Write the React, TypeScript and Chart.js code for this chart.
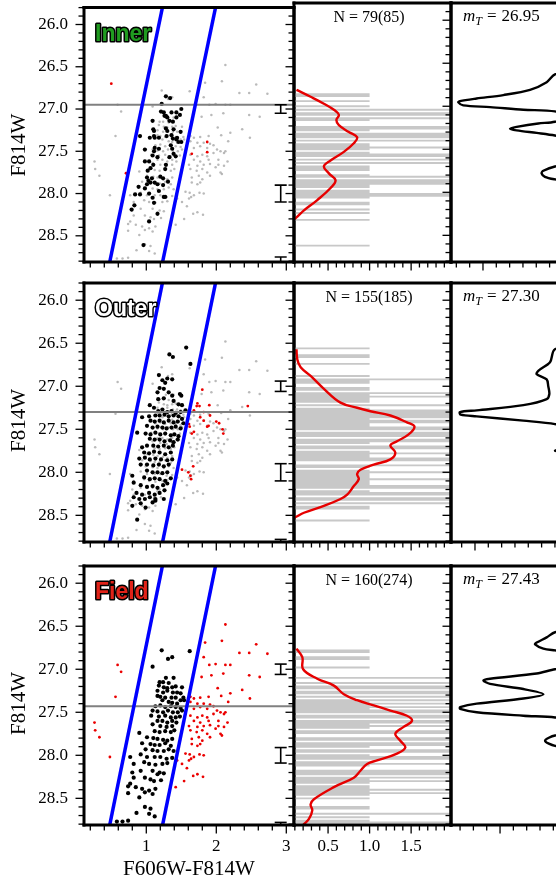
import React, { useEffect, useRef } from "react";
import { Chart, registerables } from "chart.js";
Chart.register(...registerables);

// ---------------- data ----------------
const magTicks = [26.0, 26.5, 27.0, 27.5, 28.0, 28.5];
const magTickLabels = ["26.0", "26.5", "27.0", "27.5", "28.0", "28.5"];
const colorTicks = [1, 2, 3];
const colorTickLabels = ["1", "2", "3"];
const histTicks = [0.5, 1.0, 1.5];
const histTickLabels = ["0.5", "1.0", "1.5"];
const edgeTicks = [0];

const regionNames = ["Inner", "Outer", "Field"];
const nLabels = ["N = 79(85)", "N = 155(185)", "N = 160(274)"];
const trgbMags = [26.95, 27.3, 27.43];
const trgbLabels = ["26.95", "27.30", "27.43"];

const boxLeftEdge = [[1.255, 25.7], [0.455, 28.9]];
const boxRightEdge = [[2.014, 25.7], [1.21, 28.9]];

const errColor = 2.92;
const errMags = [27.0, 28.0, 29.0];
const errSizesInner = [0.05, 0.1, 0.25];
const errSizesOuter = [0.06, 0.1, 0.22];
const errSizesField = [0.06, 0.09, 0.22];

const innerBlack = [
  [1.28, 26.85], [1.34, 26.87], [1.22, 26.94], [1.21, 27.03], [1.25, 27.04], [1.28, 27.08], [1.36, 27.04], [1.43, 27.04],
  [1.5, 27.0], [1.48, 27.07], [1.43, 27.1], [1.3, 27.1], [1.26, 27.08], [1.09, 27.14], [1.33, 27.14], [1.38, 27.15],
  [1.1, 27.24], [1.28, 27.23], [1.11, 27.26], [0.91, 27.32], [1.11, 27.32], [1.3, 27.26], [1.39, 27.24], [1.49, 27.27],
  [1.05, 27.34], [1.12, 27.34], [1.18, 27.34], [1.29, 27.32], [1.36, 27.31], [1.38, 27.35], [1.43, 27.36], [1.46, 27.39],
  [1.5, 27.39], [1.44, 27.34], [0.98, 27.48], [1.12, 27.46], [1.18, 27.47], [1.35, 27.43], [1.37, 27.47], [1.11, 27.5],
  [1.09, 27.55], [0.98, 27.62], [1.04, 27.62], [1.16, 27.57], [1.33, 27.57], [1.39, 27.53], [1.42, 27.56], [1.1, 27.66],
  [1.06, 27.7], [1.02, 27.73], [1.28, 27.66], [1.27, 27.71], [1.08, 27.82], [1.01, 27.81], [1.2, 27.8], [1.24, 27.82],
  [1.03, 27.85], [1.06, 27.87], [1.12, 27.87], [1.16, 27.89], [1.01, 27.89], [1.31, 27.86], [1.24, 27.9], [0.89, 27.92],
  [0.98, 27.94], [1.18, 27.97], [1.04, 28.0], [0.84, 28.01], [0.91, 28.01], [1.27, 28.04], [1.25, 28.04], [1.09, 28.05],
  [1.11, 28.11], [0.83, 28.14], [0.79, 28.19], [1.16, 28.24], [1.04, 28.33], [0.96, 28.61],
];
const innerRed = [[0.5, 26.7], [0.71, 27.76], [1.65, 27.53], [1.87, 27.39], [1.87, 27.51]];

const outerBlack = [
  [1.57, 26.55], [1.33, 26.63], [1.38, 26.66], [1.63, 26.74], [1.18, 26.87], [1.3, 26.91], [1.23, 26.93], [1.27, 26.96],
  [1.37, 26.92], [1.19, 27.02], [1.25, 27.03], [1.16, 27.07], [1.32, 27.07], [1.37, 27.11], [1.48, 27.09], [1.5, 27.11],
  [1.17, 27.15], [1.25, 27.14], [1.39, 27.17], [1.46, 27.21], [1.51, 27.22], [1.05, 27.22], [1.11, 27.25], [1.17, 27.29],
  [1.23, 27.27], [1.3, 27.3], [1.36, 27.29], [1.42, 27.31], [1.49, 27.3], [1.56, 27.28], [0.94, 27.36], [1.04, 27.35],
  [1.13, 27.34], [1.19, 27.34], [1.26, 27.33], [1.32, 27.35], [1.39, 27.34], [1.46, 27.35], [1.51, 27.38], [1.06, 27.4],
  [1.12, 27.41], [1.19, 27.4], [1.25, 27.42], [1.32, 27.4], [1.39, 27.42], [1.45, 27.41], [1.53, 27.43], [0.87, 27.54],
  [1.01, 27.46], [1.09, 27.48], [1.16, 27.47], [1.23, 27.48], [1.29, 27.49], [1.36, 27.48], [1.42, 27.47], [1.49, 27.49],
  [0.99, 27.55], [1.06, 27.56], [1.13, 27.54], [1.2, 27.56], [1.27, 27.55], [1.35, 27.57], [1.4, 27.56], [1.46, 27.58],
  [1.05, 27.61], [1.12, 27.62], [1.19, 27.62], [1.26, 27.64], [1.34, 27.63], [1.39, 27.65], [1.45, 27.62], [0.94, 27.71],
  [1.01, 27.69], [1.1, 27.69], [1.17, 27.7], [1.25, 27.69], [1.32, 27.71], [1.38, 27.69], [0.97, 27.77], [1.04, 27.78],
  [1.11, 27.76], [1.19, 27.77], [1.27, 27.79], [1.35, 27.77], [0.9, 27.84], [0.98, 27.83], [1.05, 27.85], [1.13, 27.84],
  [1.21, 27.85], [1.3, 27.86], [1.37, 27.85], [0.92, 27.91], [1.01, 27.91], [1.1, 27.92], [1.18, 27.91], [1.25, 27.93],
  [1.32, 27.91], [0.8, 28.04], [1.01, 27.98], [1.09, 28.0], [1.16, 28.0], [1.23, 28.01], [1.3, 28.0], [0.82, 28.12],
  [0.97, 28.06], [1.05, 28.08], [1.12, 28.07], [1.19, 28.08], [1.27, 28.1], [1.35, 28.07], [0.92, 28.15], [1.01, 28.17],
  [1.09, 28.16], [1.16, 28.18], [1.24, 28.15], [1.3, 28.13], [0.86, 28.24], [0.94, 28.26], [1.04, 28.24], [1.12, 28.26],
  [1.19, 28.24], [1.26, 28.21], [0.82, 28.29], [0.9, 28.31], [0.98, 28.31], [1.05, 28.29], [1.13, 28.31], [1.25, 28.31],
  [0.8, 28.39], [0.92, 28.36], [0.99, 28.41], [1.09, 28.35], [1.13, 28.33], [0.87, 28.55],
];
const outerRed = [
  [1.8, 27.04], [1.73, 27.2], [1.68, 27.28], [1.76, 27.23], [1.9, 27.22], [1.91, 27.34], [1.77, 27.36], [1.82, 27.4],
  [1.87, 27.47], [2.0, 27.41], [2.04, 27.43], [2.09, 27.5], [2.1, 27.55], [2.45, 27.23], [1.61, 27.44], [1.62, 27.47],
  [1.65, 27.55], [1.68, 27.53], [1.51, 27.97], [1.6, 28.0], [1.63, 28.04], [1.64, 28.08], [1.67, 27.93], [1.72, 27.23],
  [1.82, 27.3], [1.89, 27.46],
];

const fieldBlack = [
  [1.22, 26.78], [1.62, 26.79], [1.31, 26.88], [1.37, 26.86], [1.09, 26.97], [1.28, 27.1], [1.39, 27.1], [1.19, 27.15],
  [1.24, 27.15], [1.32, 27.16], [1.18, 27.19], [1.25, 27.21], [1.3, 27.22], [1.37, 27.21], [1.42, 27.2], [1.51, 27.21],
  [1.16, 27.25], [1.24, 27.27], [1.3, 27.25], [1.38, 27.27], [1.44, 27.27], [1.49, 27.28], [1.16, 27.31], [1.2, 27.32],
  [1.27, 27.33], [1.36, 27.33], [1.42, 27.33], [1.53, 27.33], [1.23, 27.36], [1.32, 27.38], [1.37, 27.39], [1.44, 27.4],
  [1.49, 27.36], [1.54, 27.36], [1.13, 27.43], [1.2, 27.42], [1.27, 27.44], [1.35, 27.43], [1.42, 27.44], [1.49, 27.45],
  [1.09, 27.48], [1.16, 27.49], [1.24, 27.5], [1.31, 27.48], [1.38, 27.5], [1.45, 27.5], [1.51, 27.48], [1.07, 27.54],
  [1.18, 27.55], [1.27, 27.54], [1.35, 27.56], [1.42, 27.56], [1.48, 27.55], [1.16, 27.6], [1.23, 27.6], [1.3, 27.62],
  [1.37, 27.6], [1.43, 27.62], [1.09, 27.64], [1.2, 27.66], [1.29, 27.67], [1.37, 27.66], [0.9, 27.74], [1.12, 27.72],
  [1.19, 27.73], [1.27, 27.72], [1.35, 27.73], [1.4, 27.71], [1.01, 27.79], [1.1, 27.8], [1.16, 27.81], [1.24, 27.82],
  [1.3, 27.83], [1.37, 27.81], [0.94, 27.86], [1.06, 27.87], [1.12, 27.88], [1.19, 27.88], [1.27, 27.86], [1.35, 27.89],
  [0.99, 27.93], [1.09, 27.94], [1.16, 27.95], [1.25, 27.95], [1.32, 27.93], [1.39, 27.95], [0.77, 28.02], [0.92, 27.99],
  [1.01, 28.02], [1.12, 28.02], [1.2, 28.02], [1.29, 28.04], [1.37, 28.03], [0.82, 28.1], [0.97, 28.08], [1.04, 28.1],
  [1.13, 28.11], [1.23, 28.1], [1.3, 28.09], [0.8, 28.2], [0.92, 28.18], [1.09, 28.18], [1.16, 28.22], [1.19, 28.2],
  [1.25, 28.21], [0.82, 28.26], [0.77, 28.33], [0.98, 28.26], [1.06, 28.28], [1.11, 28.3], [1.21, 28.29], [0.74, 28.36],
  [0.85, 28.37], [0.94, 28.39], [1.04, 28.41], [1.13, 28.39], [0.74, 28.44], [0.9, 28.49], [0.98, 28.43], [1.09, 28.45],
  [0.98, 28.6], [1.06, 28.62], [0.86, 28.67], [1.04, 28.68], [1.12, 28.71], [0.58, 28.77], [0.66, 28.77], [0.74, 28.76],
];
const fieldRed = [
  [2.13, 26.48], [2.08, 26.67], [1.84, 26.69], [2.57, 26.71], [2.33, 26.81], [2.47, 26.81], [2.73, 26.82], [1.82, 26.86],
  [0.59, 26.95], [0.64, 27.03], [1.9, 26.95], [1.99, 26.94], [2.13, 26.95], [2.2, 26.95], [1.93, 27.07], [1.79, 27.09],
  [2.1, 27.05], [2.47, 27.07], [2.62, 27.09], [2.02, 27.22], [2.07, 27.31], [2.2, 27.28], [2.37, 27.24], [0.56, 27.32],
  [2.48, 27.34], [1.63, 27.32], [1.68, 27.34], [1.77, 27.33], [1.89, 27.32], [1.63, 27.38], [1.73, 27.4], [1.82, 27.4],
  [1.91, 27.41], [1.68, 27.46], [1.77, 27.44], [1.87, 27.46], [1.96, 27.43], [2.17, 27.38], [2.01, 27.48], [2.13, 27.5],
  [1.63, 27.54], [1.73, 27.56], [1.8, 27.54], [1.87, 27.56], [1.96, 27.52], [2.06, 27.5], [2.11, 27.52], [1.68, 27.6],
  [1.77, 27.62], [1.89, 27.6], [2.03, 27.6], [2.16, 27.62], [1.61, 27.66], [1.73, 27.67], [1.82, 27.66], [1.91, 27.65],
  [2.03, 27.66], [2.11, 27.67], [1.63, 27.71], [1.72, 27.73], [1.8, 27.71], [1.87, 27.75], [1.99, 27.69], [2.06, 27.75],
  [2.08, 27.77], [1.65, 27.81], [1.75, 27.79], [1.91, 27.79], [1.8, 27.83], [1.65, 27.87], [1.73, 27.89], [1.77, 27.87],
  [1.56, 27.98], [1.62, 27.99], [1.68, 28.02], [1.76, 27.99], [1.82, 28.0], [1.64, 28.04], [1.61, 28.06], [1.44, 28.06],
  [1.51, 28.1], [1.58, 28.15], [1.67, 28.24], [1.73, 28.22], [1.81, 28.25], [1.54, 28.3], [1.42, 28.37], [0.33, 27.79],
  [0.26, 27.62], [0.27, 27.71], [0.48, 28.02],
];

// smoothed luminosity functions (value, mag)
const innerKde = [
  [0.12, 26.81], [0.29, 26.89], [0.45, 26.97], [0.57, 27.04], [0.63, 27.1], [0.6, 27.16], [0.63, 27.22], [0.75, 27.3],
  [0.85, 27.36], [0.81, 27.43], [0.69, 27.53], [0.53, 27.63], [0.45, 27.7], [0.51, 27.78], [0.59, 27.86], [0.53, 27.95],
  [0.37, 28.09], [0.21, 28.21], [0.11, 28.3], [0.02, 28.36],
];
const outerKde = [
  [0.12, 26.57], [0.13, 26.69], [0.17, 26.78], [0.29, 26.88], [0.45, 27.03], [0.65, 27.19], [0.85, 27.25], [1.01, 27.29],
  [1.25, 27.34], [1.45, 27.42], [1.54, 27.47], [1.47, 27.56], [1.33, 27.64], [1.25, 27.69], [1.31, 27.77], [1.25, 27.85],
  [1.05, 27.91], [0.89, 27.97], [0.85, 28.02], [0.87, 28.08], [0.81, 28.16], [0.73, 28.26], [0.65, 28.31], [0.45, 28.39],
  [0.21, 28.47], [0.11, 28.52], [0.02, 28.56],
];
const fieldKde = [
  [0.12, 26.76], [0.19, 26.86], [0.2, 27.0], [0.37, 27.11], [0.57, 27.19], [0.69, 27.29], [0.85, 27.36], [1.05, 27.42],
  [1.25, 27.48], [1.45, 27.54], [1.51, 27.6], [1.41, 27.67], [1.31, 27.75], [1.37, 27.83], [1.43, 27.91], [1.33, 27.98],
  [1.09, 28.06], [0.97, 28.1], [0.89, 28.18], [0.81, 28.26], [0.57, 28.37], [0.33, 28.51], [0.29, 28.57], [0.31, 28.64],
  [0.27, 28.74], [0.21, 28.8], [0.15, 28.86],
];

// edge-detection response (value, mag)
const innerEdge = [
  [9, 25.7], [9, 26.45], [5.4, 26.63], [4.78, 26.72], [3.53, 26.81], [1.53, 26.87], [-0.48, 26.91], [-1.73, 26.94],
  [-1.85, 26.955], [-1.48, 26.99], [0.53, 27.01], [3.03, 27.04], [5.4, 27.06], [6.3, 27.12], [5.4, 27.18], [4.15, 27.2],
  [2.53, 27.24], [2.03, 27.26], [2.53, 27.28], [4.03, 27.31], [5.4, 27.34], [9, 27.45], [9, 27.6], [5.4, 27.7],
  [4.53, 27.75], [4.4, 27.78], [4.65, 27.82], [5.4, 27.85], [9, 27.95], [9, 28.9],
];
const outerEdge = [
  [9, 25.7], [9, 26.45], [6.0, 26.57], [5.63, 26.72], [4.75, 26.82], [4.63, 26.86], [5.38, 26.92], [5.5, 27.0],
  [5.58, 27.09], [5.38, 27.15], [3.63, 27.22], [0.13, 27.28], [-1.13, 27.3], [-1.08, 27.33], [0.13, 27.35], [3.63, 27.4],
  [6.0, 27.44], [9, 27.55], [9, 27.68], [6.0, 27.75], [9, 27.82], [9, 28.9],
];
const fieldEdge = [
  [9, 25.7], [9, 26.45], [4.13, 26.57], [3.5, 26.63], [2.75, 26.69], [2.63, 26.71], [3.25, 26.76], [4.13, 26.78],
  [9, 26.88], [4.13, 27.0], [2.75, 27.05], [-0.75, 27.11], [-1.25, 27.13], [-0.75, 27.17], [1.75, 27.23], [3.25, 27.29],
  [1.75, 27.34], [-1.75, 27.4], [-3.0, 27.44], [-3.0, 27.46], [-1.75, 27.5], [1.75, 27.54], [4.13, 27.56], [9, 27.66],
  [4.13, 27.77], [3.38, 27.83], [4.13, 27.89], [9, 27.99], [9, 28.9],
];

// ---------------- layout & styles ----------------
const W = 556;
const H = 879;
const ROW_TOP = [3, 283, 566];
const ROW_H = 259;
const LEFT_X = [84, 294];
const MID_X = [294, 451];
const RIGHT_X = [451, 556];

const magRange = [25.8, 28.81];
const colorRange = [0.11, 3.11];
const histRange = [0.09, 1.98];
const edgeRanges = [[-2.4, 5.48], [-1.8, 6.08], [-3.68, 4.2]];
const HIST_BIN = 0.02;

const SERIF = "'Liberation Serif', 'Times New Roman', serif";
const TICK_FONT = `17px ${SERIF}`;
const REGION_FILL = ["rgb(32,155,32)", "#ffffff", "rgb(225,35,25)"];

type TickSpec = { major: number[]; labels?: string[]; minorStep: number };
type Deco = {
  bottom?: TickSpec;
  left?: TickSpec;
  rightIn?: TickSpec;
  borders: { top: boolean; right: boolean; bottom: boolean; left: boolean };
  extra?: (ctx: CanvasRenderingContext2D, a: any) => void;
};

const pts = (arr: number[][]) => arr.map(([x, y]) => ({ x, y }));

function minorVals(min: number, max: number, step: number, majors: number[]) {
  const out: number[] = [];
  const start = Math.ceil(min / step - 1e-9);
  for (let k = start; k * step <= max + 1e-9; k++) {
    const v = k * step;
    if (!majors.some((m) => Math.abs(m - v) < step * 0.01)) out.push(v);
  }
  return out;
}

// fine-binned histogram of the selected stars' magnitudes, drawn as horizontal bars
function histBars(mags: number[], bin: number) {
  const counts = new Map<number, number>();
  mags.forEach((m) => {
    const k = Math.round(m / bin);
    counts.set(k, (counts.get(k) || 0) + 1);
  });
  const seg: any[] = [];
  Array.from(counts.keys())
    .sort((p, q) => p - q)
    .forEach((k) => {
      const c = counts.get(k) || 0;
      seg.push({ x: 0, y: k * bin }, { x: c, y: k * bin }, { x: null, y: null });
    });
  return seg;
}

function decoPlugin(d: Deco) {
  return {
    id: "deco",
    afterDraw(chart: any) {
      const ctx: CanvasRenderingContext2D = chart.ctx;
      const a = chart.chartArea;
      const xs = chart.scales.x;
      const ys = chart.scales.y;
      ctx.save();
      ctx.strokeStyle = "#000";
      ctx.fillStyle = "#000";
      ctx.lineWidth = 1.3;
      const line = (x1: number, y1: number, x2: number, y2: number) => {
        ctx.beginPath();
        ctx.moveTo(x1, y1);
        ctx.lineTo(x2, y2);
        ctx.stroke();
      };
      if (d.bottom) {
        const t = d.bottom;
        t.major.forEach((v, i) => {
          const px = xs.getPixelForValue(v);
          if (px < a.left - 0.5 || px > a.right + 0.5) return;
          line(px, a.bottom, px, a.bottom + 8.5);
          if (t.labels) {
            ctx.font = TICK_FONT;
            ctx.textAlign = "center";
            ctx.textBaseline = "middle";
            ctx.fillText(t.labels[i], px, a.bottom + 22);
          }
        });
        minorVals(xs.min, xs.max, t.minorStep, t.major).forEach((v) => {
          const px = xs.getPixelForValue(v);
          line(px, a.bottom, px, a.bottom + 5.5);
        });
      }
      if (d.left) {
        const t = d.left;
        t.major.forEach((v, i) => {
          const py = ys.getPixelForValue(v);
          line(a.left, py, a.left - 8.5, py);
          if (t.labels) {
            ctx.font = TICK_FONT;
            ctx.textAlign = "right";
            ctx.textBaseline = "middle";
            ctx.fillText(t.labels[i], a.left - 16, py);
          }
        });
        minorVals(ys.min, ys.max, t.minorStep, t.major).forEach((v) => {
          const py = ys.getPixelForValue(v);
          line(a.left, py, a.left - 5.5, py);
        });
      }
      if (d.rightIn) {
        const t = d.rightIn;
        t.major.forEach((v) => {
          const py = ys.getPixelForValue(v);
          line(a.right, py, a.right - 8.5, py);
        });
        minorVals(ys.min, ys.max, t.minorStep, t.major).forEach((v) => {
          const py = ys.getPixelForValue(v);
          line(a.right, py, a.right - 5.5, py);
        });
      }
      ctx.lineWidth = 3;
      ctx.lineCap = "square";
      const b = d.borders;
      if (b.top) line(a.left, a.top, a.right, a.top);
      if (b.bottom) line(a.left, a.bottom, a.right, a.bottom);
      if (b.left) line(a.left, a.top, a.left, a.bottom);
      if (b.right) line(a.right, a.top, a.right, a.bottom);
      if (d.extra) d.extra(ctx, a);
      ctx.restore();
    },
  };
}

function baseOptions(x0: number, x1: number, y0: number, y1: number, xr: number[]) {
  return {
    responsive: false,
    animation: false as const,
    devicePixelRatio: 1,
    events: [] as any[],
    layout: { padding: { left: x0, top: y0, right: W - x1, bottom: H - y1 } },
    plugins: { legend: { display: false }, tooltip: { enabled: false }, title: { display: false } },
    scales: {
      x: { type: "linear" as const, min: xr[0], max: xr[1], display: false },
      y: { type: "linear" as const, min: magRange[0], max: magRange[1], reverse: true, display: false },
    },
  };
}

function dotSet(arr: number[][], color: string, r: number, order: number) {
  return {
    data: pts(arr),
    showLine: false,
    pointRadius: r,
    pointBackgroundColor: color,
    pointBorderWidth: 0,
    borderWidth: 0,
    clip: 0,
    order,
  };
}

function lineSet(data: any[], color: string, width: number, order: number, tension = 0) {
  return {
    data,
    showLine: true,
    borderColor: color,
    borderWidth: width,
    pointRadius: 0,
    tension,
    spanGaps: false,
    clip: 0,
    order,
  };
}

type RowSpec = {
  black: number[][];
  red: number[][];
  gray: number[][] | null;
  errSizes: number[];
  kde: number[][];
  edge: number[][];
};

const ROWS: RowSpec[] = [
  { black: innerBlack, red: innerRed, gray: fieldBlack.concat(fieldRed), errSizes: errSizesInner, kde: innerKde, edge: innerEdge },
  { black: outerBlack, red: outerRed, gray: fieldBlack.concat(fieldRed), errSizes: errSizesOuter, kde: outerKde, edge: outerEdge },
  { black: fieldBlack, red: fieldRed, gray: null, errSizes: errSizesField, kde: fieldKde, edge: fieldEdge },
];

function leftConfig(row: RowSpec, i: number) {
  const y0 = ROW_TOP[i];
  const y1 = y0 + ROW_H;
  const ds: any[] = [];
  if (row.gray) ds.push(dotSet(row.gray, "rgba(140,140,140,0.6)", 1.25, 9));
  ds.push(dotSet(row.red, "rgb(235,0,0)", 1.4, 8));
  ds.push(dotSet(row.black, "#000000", 2.1, 7));
  ds.push(lineSet([{ x: colorRange[0], y: trgbMags[i] }, { x: colorRange[1], y: trgbMags[i] }], "rgb(128,128,128)", 2, 6));
  ds.push(lineSet(pts(boxLeftEdge), "rgb(0,0,255)", 3.5, 5));
  ds.push(lineSet(pts(boxRightEdge), "rgb(0,0,255)", 3.5, 4));
  const errLines: any[] = [];
  const errCaps: any[] = [];
  errMags.forEach((m, k) => {
    const e = row.errSizes[k];
    errLines.push({ x: errColor, y: m - e }, { x: errColor, y: m + e }, { x: null, y: null });
    errCaps.push({ x: errColor, y: m - e }, { x: errColor, y: m + e });
  });
  ds.push(lineSet(errLines, "#000000", 1.6, 3));
  ds.push({
    data: errCaps,
    showLine: false,
    pointStyle: "line",
    pointRadius: 6,
    pointBorderColor: "#000000",
    pointBorderWidth: 1.6,
    clip: 0,
    order: 2,
  });
  const deco: Deco = {
    borders: { top: true, right: true, bottom: true, left: true },
    left: { major: magTicks, labels: magTickLabels, minorStep: 0.1 },
    rightIn: { major: magTicks, minorStep: 0.1 },
    bottom: { major: colorTicks, labels: i === 2 ? colorTickLabels : undefined, minorStep: 0.2 },
    extra: (ctx, a) => {
      ctx.font = "bold 23px 'Liberation Sans', Arial, sans-serif";
      ctx.textAlign = "left";
      ctx.textBaseline = "alphabetic";
      ctx.lineJoin = "round";
      ctx.lineWidth = 3;
      ctx.strokeStyle = "#000";
      ctx.strokeText(regionNames[i], 95, a.top + 33);
      ctx.fillStyle = REGION_FILL[i];
      ctx.fillText(regionNames[i], 95, a.top + 33);
      ctx.save();
      ctx.fillStyle = "#000";
      ctx.font = `21px ${SERIF}`;
      ctx.translate(19, a.top + ROW_H / 2 + 8);
      ctx.rotate(-Math.PI / 2);
      ctx.textAlign = "center";
      ctx.textBaseline = "middle";
      ctx.fillText("F814W", 0, 0);
      ctx.restore();
      if (i === 2) {
        ctx.fillStyle = "#000";
        ctx.font = `21px ${SERIF}`;
        ctx.textAlign = "center";
        ctx.textBaseline = "middle";
        ctx.fillText("F606W-F814W", (a.left + a.right) / 2, 869);
      }
    },
  };
  return {
    type: "scatter" as const,
    data: { datasets: ds },
    options: baseOptions(LEFT_X[0], LEFT_X[1], y0, y1, colorRange),
    plugins: [decoPlugin(deco)],
  };
}

function midConfig(row: RowSpec, i: number) {
  const y0 = ROW_TOP[i];
  const y1 = y0 + ROW_H;
  const hist = histBars(row.black.map((p) => p[1]), HIST_BIN);
  const ds: any[] = [
    lineSet(hist, "rgb(200,200,200)", 1.9, 2),
    lineSet(pts(row.kde), "rgb(230,0,0)", 2.4, 1, 0.4),
  ];
  const deco: Deco = {
    borders: { top: true, right: true, bottom: true, left: true },
    rightIn: { major: magTicks, minorStep: 0.1 },
    bottom: { major: histTicks, labels: i === 2 ? histTickLabels : undefined, minorStep: 0.1 },
    extra: (ctx, a) => {
      ctx.fillStyle = "#000";
      ctx.font = `16px ${SERIF}`;
      ctx.textAlign = "center";
      ctx.textBaseline = "alphabetic";
      ctx.fillText(nLabels[i], 369, a.top + 19);
    },
  };
  return {
    type: "scatter" as const,
    data: { datasets: ds },
    options: baseOptions(MID_X[0], MID_X[1], y0, y1, histRange),
    plugins: [decoPlugin(deco)],
  };
}

function rightConfig(row: RowSpec, i: number) {
  const y0 = ROW_TOP[i];
  const y1 = y0 + ROW_H;
  const ds: any[] = [lineSet(pts(row.edge), "#000000", 2.4, 1, 0.3)];
  const deco: Deco = {
    borders: { top: true, right: false, bottom: true, left: true },
    bottom: { major: edgeTicks, minorStep: 1 },
    extra: (ctx, a) => {
      ctx.fillStyle = "#000";
      ctx.textAlign = "left";
      ctx.textBaseline = "alphabetic";
      let x = 463;
      const y = a.top + 18;
      ctx.font = `italic 17px ${SERIF}`;
      ctx.fillText("m", x, y);
      x += ctx.measureText("m").width;
      ctx.font = `italic 12px ${SERIF}`;
      ctx.fillText("T", x, y + 4);
      x += ctx.measureText("T").width + 5;
      ctx.font = `17px ${SERIF}`;
      ctx.fillText("=", x, y);
      x += ctx.measureText("=").width + 5;
      ctx.fillText(trgbLabels[i], x, y);
    },
  };
  return {
    type: "scatter" as const,
    data: { datasets: ds },
    options: baseOptions(RIGHT_X[0], RIGHT_X[1], y0, y1, edgeRanges[i]),
    plugins: [decoPlugin(deco)],
  };
}

export default function App() {
  const refs = useRef<(HTMLCanvasElement | null)[]>([]);
  useEffect(() => {
    const charts: Chart[] = [];
    ROWS.forEach((row, i) => {
      const c0 = refs.current[i * 3];
      const c1 = refs.current[i * 3 + 1];
      const c2 = refs.current[i * 3 + 2];
      if (c0) charts.push(new Chart(c0, leftConfig(row, i) as any));
      if (c1) charts.push(new Chart(c1, midConfig(row, i) as any));
      if (c2) charts.push(new Chart(c2, rightConfig(row, i) as any));
    });
    return () => charts.forEach((c) => c.destroy());
  }, []);
  return (
    <div style={{ position: "fixed", left: 0, top: 0, width: W, height: H, overflow: "hidden", background: "#fff" }}>
      {Array.from({ length: 9 }).map((_, k) => (
        <canvas
          key={k}
          ref={(el) => {
            refs.current[k] = el;
          }}
          width={W}
          height={H}
          style={{ position: "absolute", left: 0, top: 0, width: W, height: H }}
        />
      ))}
    </div>
  );
}
